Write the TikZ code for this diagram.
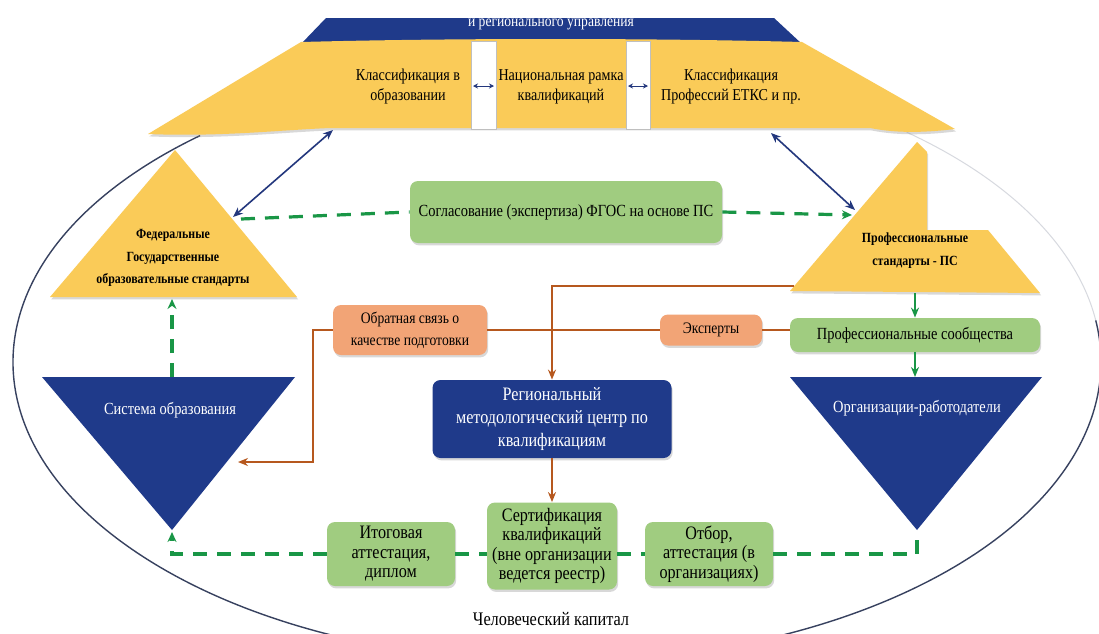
\documentclass[tikz,border=0pt]{standalone}
\usepackage{fontspec}
\setmainfont{Liberation Serif}[FakeStretch=0.85]
\usetikzlibrary{arrows.meta,shadows,calc}
\definecolor{ylw}{RGB}{250,203,88}
\definecolor{dblue}{RGB}{31,58,138}
\definecolor{gbox}{RGB}{160,204,128}
\definecolor{obox}{RGB}{242,164,118}
\definecolor{gline}{RGB}{25,150,70}
\definecolor{bline}{RGB}{182,88,30}
\definecolor{aline}{RGB}{35,55,125}
\definecolor{eline}{RGB}{55,65,95}
\newcommand{\fs}[2]{\fontsize{#1}{#2}\selectfont}
\begin{document}
\begin{tikzpicture}[x=0.5pt,y=-0.5pt,
  shd/.style={drop shadow={opacity=0.3,shadow xshift=0.6pt,shadow yshift=-1.2pt}},
  box/.style={rounded corners=4pt, align=center, inner sep=1pt, shd},
  gbx/.style={box, fill=gbox},
  obx/.style={box, fill=obox},
  bbx/.style={box, fill=dblue, text=white},
  plain/.style={align=center, inner sep=0pt},
  barrow/.style={draw=aline, line width=0.8pt, {Stealth[length=5pt,width=4pt]}-{Stealth[length=5pt,width=4pt]}},
  darr/.style={draw=aline, line width=0.5pt, {Stealth[length=2.5pt,width=2.5pt]}-{Stealth[length=2.5pt,width=2.5pt]}},
  gdash/.style={draw=gline, line width=1.6pt, dash pattern=on 7pt off 5pt},
  gtip/.style={-{Stealth[length=5pt,width=4.5pt]}},
  garr/.style={draw=gline, line width=1pt, -{Stealth[length=5pt,width=4pt]}},
  bl/.style={draw=bline, line width=0.9pt},
  btip/.style={-{Stealth[length=5pt,width=4pt]}}
]
\useasboundingbox (0,0) rectangle (1099,633);
\clip (0,0) rectangle (1099,633);
\fill[white] (0,0) rectangle (1099,633);

% big ellipse
\coordinate (ec) at (557,362);
\draw[eline, line width=0.7pt] (ec) ++(131:272pt and 150pt)
  arc [start angle=131, end angle=368, x radius=272pt, y radius=150pt];
\draw[eline!20, line width=0.5pt] (ec) ++(8:272pt and 150pt)
  arc [start angle=8, end angle=50, x radius=272pt, y radius=150pt];

% top blue band
\fill[dblue] (301,44) -- (326,18) -- (774,18) -- (802,44) -- cycle;
\begin{scope}
  \clip (301,44) -- (326,18) -- (774,18) -- (802,44) -- cycle;
  \node[plain, text=white, font=\fs{8}{9}] (upr) at (551,24) {и регионального управления};
\end{scope}

% yellow trapezoid
\fill[ylw, shd] (301,42) .. controls (450,38) and (650,38) .. (802,42) -- (955,129)
  .. controls (930,132) and (900,134) .. (870,128) -- (330,128)
  .. controls (280,130) and (220,137) .. (148,134) -- cycle;
\filldraw[fill=white, draw=gray!50, line width=0.3pt] (471,41) rectangle (496,129);
\filldraw[fill=white, draw=gray!50, line width=0.3pt] (626,41) rectangle (650,129);
\node[plain, font=\fs{8.3}{10}] (klass) at (408,87) {Классификация в\\образовании};
\node[plain, font=\fs{8.3}{10}] (nrk) at (561,87) {Национальная  рамка\\квалификаций};
\node[plain, font=\fs{8.3}{10}] (etks) at (731,87) {Классификация\\Профессий ЕТКС и пр.};
\coordinate (s1a) at (473,86); \coordinate (s1b) at (494,86);
\coordinate (s2a) at (628,86); \coordinate (s2b) at (648,86);
\draw[darr] (s1a) -- (s1b);
\draw[darr] (s2a) -- (s2b);
\coordinate (tbl) at (333,130);
\coordinate (tbr) at (771,133);

% FGOS triangle
\fill[ylw, shd] (175,150) coordinate (fA) -- (297,297) coordinate (fR) -- (50,297) coordinate (fL) -- cycle;
\node[plain, font=\fs{7}{11.2}\bfseries] (fgos) at (173,258) {Федеральные\\Государственные\\образовательные стандарты};
\coordinate (fE) at (233,217);
\coordinate (fG) at (241,219);
\coordinate (fB) at (172,299);

% PS shape
\fill[ylw, shd] (917,142) -- (927,152) -- (927,230) -- (988,230) -- (1040,293) -- (790,291) -- cycle;
\node[plain, font=\fs{7}{11.5}\bfseries] (ps) at (915,251) {Профессиональные\\стандарты - ПС};
\coordinate (psE) at (855,210);
\coordinate (psG) at (852,215);
\coordinate (psB) at (915,293);
\coordinate (psL) at (794,286);

% blue arrows
\draw[barrow] (tbl) -- (fE);
\draw[barrow] (tbr) -- (psE);

% agreement box
\node[gbx, minimum width=156pt, minimum height=31pt, font=\fs{8.5}{10}] (sogl) at (566,212) {Согласование (экспертиза) ФГОС на основе ПС};
\draw[gdash] (fG) -- (sogl.west);
\draw[gdash, gtip] (sogl.east) -- (psG);

% Sistema triangle
\fill[dblue] (42,377) coordinate (sL) -- (295,377) coordinate (sR) -- (172,530) coordinate (sA) -- cycle;
\node[plain, text=white, font=\fs{8.5}{10}] (sys) at (170,410) {Система образования};
\coordinate (sT) at (172,377);
\coordinate (sE) at (238,462);
\coordinate (sAb) at (172,532);

% Organizacii triangle
\fill[dblue] (790,377) coordinate (oL) -- (1042,377) coordinate (oR) -- (917,530) coordinate (oA) -- cycle;
\node[plain, text=white, font=\fs{8.5}{10}] (org) at (917,408) {Организации-работодатели};
\coordinate (oT) at (915,377);
\coordinate (oAb) at (917,532);

% boxes
\node[obx, minimum width=77pt, minimum height=25pt, font=\fs{8}{11}] (obr) at (410,330) {Обратная  связь о\\качестве подготовки};
\node[obx, minimum width=51pt, minimum height=15.5pt, font=\fs{8}{10}] (eksp) at (711,330) {Эксперты};
\node[gbx, minimum width=125pt, minimum height=17pt, font=\fs{8.5}{10}] (profs) at (915,335) {Профессиональные  сообщества};
\node[bbx, minimum width=119.5pt, minimum height=39pt, font=\fs{9.5}{11.5}] (rmc) at (552,419) {Региональный\\методологический центр по\\квалификациям};
\node[gbx, minimum width=64pt, minimum height=32pt, font=\fs{9.5}{9.8}] (itog) at (391,554) {Итоговая\\аттестация,\\диплом};
\node[gbx, minimum width=65pt, minimum height=43.5pt, font=\fs{9.5}{9.8}] (sert) at (552,546) {Сертификация\\квалификаций\\(вне организации\\ведется реестр)};
\node[gbx, minimum width=64pt, minimum height=32pt, font=\fs{9.5}{9.8}] (otbor) at (709,554) {Отбор,\\аттестация  (в\\организациях)};
\node[plain, font=\fs{9.6}{12}] (cap) at (551,619) {Человеческий капитал};

% green solid arrows
\draw[garr] (psB) -- (profs.north);
\draw[garr] (profs.south) -- (oT);

% green dashed
\draw[gdash, gtip] (sT) -- (fB);
\draw[gdash, gtip] (itog.west) -| (sAb);
\draw[gdash] (itog.east) -- (itog.east -| sert.west);
\draw[gdash] (otbor.west -| sert.east) -- (otbor.west);
\draw[gdash] (otbor.east) -| (oAb);

% brown lines
\draw[bl, btip] (psL) -| (rmc.north);
\draw[bl] (obr.east) -- (eksp.west);
\draw[bl] (eksp.east) -- (eksp.east -| profs.west);
\draw[bl, btip] (obr.west) -- ++(-20,0) |- (sE);
\draw[bl, btip] (rmc.south) -- (sert.north);
\end{tikzpicture}
\end{document}
